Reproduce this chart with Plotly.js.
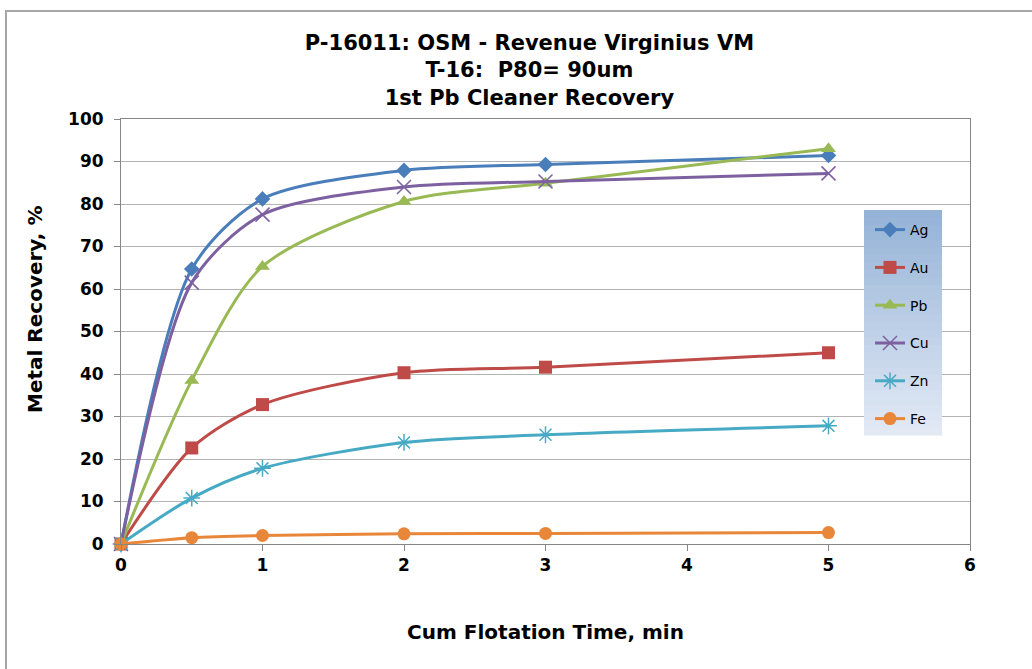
<!DOCTYPE html>
<html>
<head>
<meta charset="utf-8">
<script src="https://cdn.plot.ly/plotly-3.0.1.min.js"></script>
<style>
html,body{margin:0;padding:0;background:#fff;}
#frame{position:absolute;left:5px;top:10px;width:1040px;height:670px;border-left:2px solid #a6a6a6;border-top:2px solid #a6a6a6;box-sizing:border-box;pointer-events:none;z-index:5;}
#chart{position:absolute;left:0;top:0;width:1032px;height:669px;}
</style>
</head>
<body>
<div id="chart"></div>
<div id="frame"></div>
<script>
// Data
var times = [0, 0.5, 1, 2, 3, 5];
var seriesNames = ["Ag", "Au", "Pb", "Cu", "Zn", "Fe"];
var agValues = [0, 64.7, 81.2, 87.9, 89.3, 91.4];
var auValues = [0, 22.6, 32.8, 40.3, 41.6, 45.0];
var pbValues = [0, 38.5, 65.3, 80.6, 84.9, 93.0];
var cuValues = [0, 61.5, 77.5, 84.0, 85.3, 87.2];
var znValues = [0, 10.8, 17.8, 23.9, 25.7, 27.8];
var feValues = [0, 1.5, 2.0, 2.4, 2.5, 2.7];
var xTicks = [0, 1, 2, 3, 4, 5, 6];
var yTicks = [0, 10, 20, 30, 40, 50, 60, 70, 80, 90, 100];

var values = [agValues, auValues, pbValues, cuValues, znValues, feValues];
var colors = ["#4A7EBB", "#BE4B48", "#98B954", "#7D60A0", "#46AAC5", "#E8873A"];
var symbols = ["diamond", "square", "triangle-up", "x-thin-open", "asterisk-open", "circle"];
var sizes = [12, 13, 13, 14, 14, 13];

var traces = seriesNames.map(function (n, i) {
  return {
    x: times, y: values[i], name: n, type: "scatter", mode: "lines+markers",
    legendgroup: n,
    line: {color: colors[i], width: 3, shape: "spline", smoothing: 0.8},
    marker: {symbol: symbols[i], size: sizes[i], color: colors[i],
             line: {color: colors[i], width: (i === 3 || i === 4) ? 1.5 : 0}},
    cliponaxis: false
  };
});

// gradient backdrop for the legend box (drawn as thin strips)
var shapes = [];
var nStrips = 30, bx0 = 864, bx1 = 942, by0 = 210, by1 = 435;
var c0 = [149, 179, 215], c1 = [226, 233, 245];
var L = 121, R = 970, T = 119, B = 544;
for (var s = 0; s < nStrips; s++) {
  var f = s / (nStrips - 1);
  var c = c0.map(function (v, k) { return Math.round(v + (c1[k] - v) * f); });
  var ya = by0 + (by1 - by0) * s / nStrips, yb = by0 + (by1 - by0) * (s + 1) / nStrips + 0.5;
  shapes.push({type: "rect", xref: "paper", yref: "paper", layer: "above",
    x0: (bx0 - L) / (R - L), x1: (bx1 - L) / (R - L),
    y0: (B - yb) / (B - T), y1: (B - ya) / (B - T),
    line: {width: 0}, fillcolor: "rgb(" + c.join(",") + ")"});
}

var fontFam = "DejaVu Sans, Verdana, sans-serif";
var layout = {
  width: 1032, height: 669,
  margin: {l: 121, r: 62, t: 119, b: 125},
  paper_bgcolor: "#ffffff", plot_bgcolor: "#ffffff",
  title: {
    text: "<b>P-16011: OSM - Revenue Virginius VM<br>T-16:  P80= 90um<br>1st Pb Cleaner Recovery</b>",
    font: {family: fontFam, size: 21, color: "#000"},
    x: 0.513, xanchor: "center", y: 0.925, yanchor: "top"
  },
  xaxis: {
    range: [0, 6], tickvals: xTicks, ticktext: xTicks.map(String),
    showgrid: false, zeroline: false,
    showline: true, linecolor: "#868686", linewidth: 1, mirror: true,
    ticks: "outside", ticklen: 6, tickcolor: "#868686",
    tickfont: {family: fontFam, size: 17, color: "#000", weight: "bold"},
    title: {text: "<b>Cum Flotation Time, min</b>", font: {family: fontFam, size: 20, color: "#000"}, standoff: 50}
  },
  yaxis: {
    range: [0, 100], tickvals: yTicks, ticktext: yTicks.map(String),
    showgrid: true, gridcolor: "#b3b3b3", gridwidth: 1, zeroline: false,
    showline: true, linecolor: "#868686", linewidth: 1, mirror: true,
    ticks: "outside", ticklen: 6, tickcolor: "#868686", ticklabelstandoff: 7,
    tickfont: {family: fontFam, size: 17, color: "#000", weight: "bold"}
  },
  annotations: [{
    text: "<b>Metal Recovery, %</b>", textangle: -90, showarrow: false,
    xref: "paper", yref: "paper", x: (35 - L) / (R - L), y: (B - 310) / (B - T),
    xanchor: "center", yanchor: "middle",
    font: {family: fontFam, size: 20, color: "#000"}
  }],
  showlegend: true,
  legend: {
    x: (bx0 - L + 6) / (R - L), xanchor: "left",
    y: (B - by0 - 4) / (B - T), yanchor: "top",
    bgcolor: "rgba(0,0,0,0)", borderwidth: 0,
    font: {family: fontFam, size: 14, color: "#000"},
    tracegroupgap: 16.6, itemwidth: 30
  },
  shapes: shapes
};

Plotly.newPlot("chart", traces, layout, {displayModeBar: false, staticPlot: true});
</script>
</body>
</html>
